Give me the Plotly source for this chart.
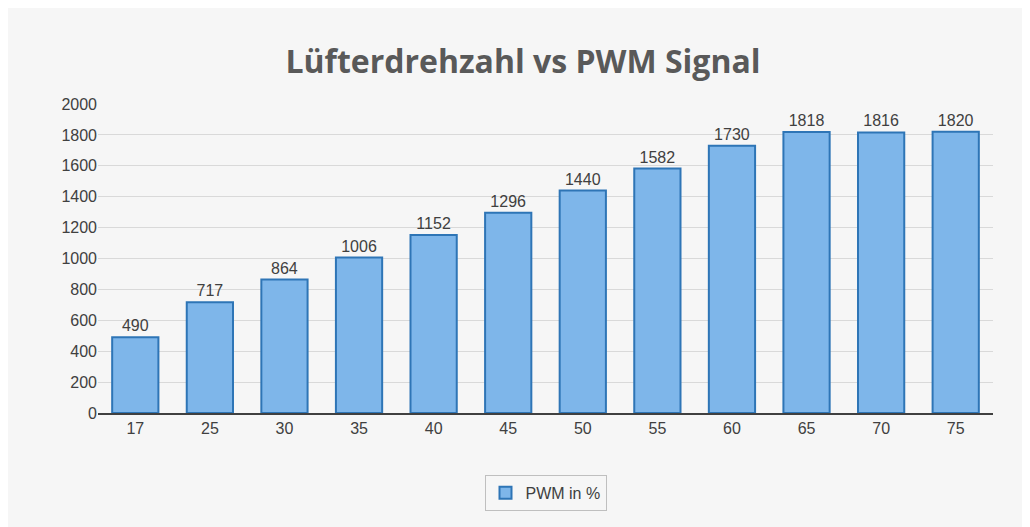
import plotly.graph_objects as go

# PWM-Signal in % (Kategorien) und gemessene Drehzahl
pwm = ["17", "25", "30", "35", "40", "45", "50", "55", "60", "65", "70", "75"]
rpm = [490, 717, 864, 1006, 1152, 1296, 1440, 1582, 1730, 1818, 1816, 1820]

fig = go.Figure()
fig.add_trace(go.Bar(
    x=pwm,
    y=rpm,
    name="PWM in %",
    text=[str(v) for v in rpm],
    textposition="outside",
    textfont=dict(size=16, color="#404040", family="Liberation Sans"),
    marker=dict(color="#7eb6ea", line=dict(color="#2e75b6", width=2)),
    width=0.62,
    cliponaxis=False,
))

fig.update_layout(
    width=1030,
    height=527,
    title=dict(text="<b>Lüfterdrehzahl vs PWM Signal</b>", x=0.5, y=0.92,
               xanchor="center", font=dict(size=32, color="#595959", family="Open Sans")),
    paper_bgcolor="#f6f6f6",
    plot_bgcolor="#f6f6f6",
    margin=dict(l=90, r=45, t=96, b=122),
    font=dict(family="Liberation Sans", size=16, color="#404040"),
    showlegend=True,
    legend=dict(orientation="h", x=0.5, xanchor="center", y=-0.2, yanchor="top",
                bordercolor="#bfbfbf", borderwidth=1, bgcolor="#f6f6f6",
                font=dict(size=16, color="#404040")),
    bargap=0.38,
)
fig.update_yaxes(range=[0, 2000], dtick=200, showgrid=True, gridcolor="#d9d9d9",
                 zeroline=False, ticks="", tickfont=dict(size=16, color="#404040"))
fig.update_xaxes(showline=True, linecolor="#404040", linewidth=2, ticks="",
                 tickfont=dict(size=16, color="#404040"))

fig.write_html("out.html")
